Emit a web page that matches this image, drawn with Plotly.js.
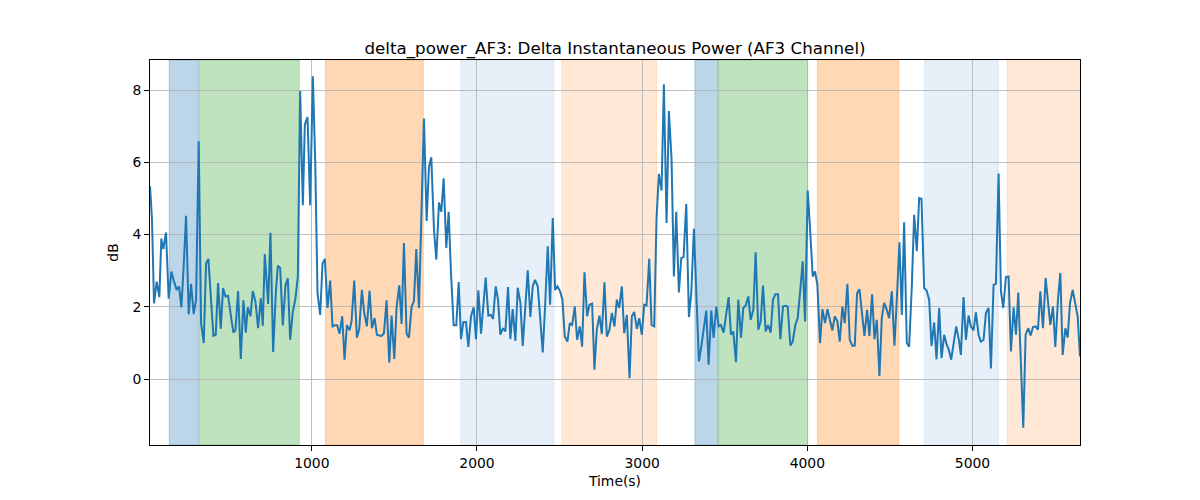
<!DOCTYPE html>
<html>
<head>
<meta charset="utf-8">
<script src="https://cdn.plot.ly/plotly-3.0.1.min.js"></script>
<style>
  html, body { margin: 0; padding: 0; background: #fff; }
  #graph { width: 1200px; height: 500px; }
</style>
</head>
<body>
<div id="graph"></div>
<script>
/* global Plotly */

// sample times (s)
const timeS = [
  20.4, 32.5, 44.6, 60.8, 77, 89, 101.2, 117.4, 133.5, 149.7, 165.9, 182, 196.2, 210.3, 224.4, 238.6,
  254.7, 268.9, 285, 299.2, 315.3, 329.5, 345.6, 359.8, 373.9, 388.1, 404.2, 418.4, 432.5, 448.7,
  462.8, 477, 493.1, 509.3, 525.4, 537.6, 553.7, 569.9, 586, 600.2, 612.3, 628.5, 642.6, 658.8,
  674.9, 691.1, 703.2, 715.3,
  735.6, 749.7, 765.9, 782, 794.2, 808.3, 824.5, 840.6, 854.8, 868.9, 885.1, 901.2, 915.4, 929.5,
  945.7, 957.8, 974, 990.1, 1006.3, 1020.4, 1034.6, 1050.7, 1064.9, 1079, 1095.2, 1111.3, 1125.5,
  1139.6, 1153.7, 1167.9, 1184, 1198.2, 1212.3, 1228.5, 1240.6, 1256.8, 1272.9, 1287.1, 1303.2,
  1317.4, 1333.5, 1349.7, 1363.8, 1380, 1394.1, 1408.3,
  1422.4, 1436.6, 1452.7, 1468.9, 1483, 1499.2, 1513.3, 1529.5, 1543.6, 1557.8, 1573.9, 1588.1,
  1604.2, 1618.4, 1632.5, 1648.7, 1664.8, 1679, 1695.1, 1709.3, 1723.4, 1739.6, 1753.7, 1769.9,
  1784, 1798.2, 1814.3, 1828.5, 1842.6, 1858.8, 1874.9, 1889.1, 1903.2, 1917.3, 1933.5, 1947.6,
  1963.8, 1980, 1994.1, 2008.3, 2024.4, 2038.6, 2052.7, 2068.8, 2083, 2097.1, 2113.3,
  2127.4, 2141.6, 2157.7, 2171.9, 2188, 2202.2, 2216.3, 2232.5, 2246.6, 2262.8, 2276.9, 2293.1,
  2307.2, 2323.4, 2337.5, 2351.7, 2367.8, 2382, 2398.1, 2412.3, 2428.4, 2442.6, 2458.7, 2472.9,
  2487, 2503.2, 2517.3, 2531.5, 2547.6, 2561.8, 2575.9, 2592.1, 2606.2, 2622.4, 2636.5, 2650.7,
  2666.8, 2681, 2697.1, 2711.2, 2725.4, 2741.5, 2755.7, 2771.8, 2786, 2802.1, 2816.3,
  2832.6, 2846.7, 2860.8, 2877, 2891.1, 2907.3, 2923.5, 2937.6, 2951.8, 2967.9, 2982.1, 2998.2,
  3012.4, 3026.5, 3042.7, 3056.8, 3073, 3087.1, 3101.2, 3117.4, 3131.5, 3147.7, 3161.8, 3178,
  3192.1, 3206.3, 3222.4, 3236.6, 3250.7, 3266.9, 3283, 3297.2, 3313.3, 3327.5, 3343.6, 3357.8,
  3373.9, 3388.1, 3402.2, 3418.4, 3432.5, 3448.7, 3462.8, 3477, 3493.1, 3509.3, 3523.5,
  3537.6, 3551.7, 3567.9, 3582, 3598.2, 3612.3, 3626.5, 3642.6, 3656.8, 3672.9, 3687.1, 3703.2,
  3717.4, 3731.5, 3747.7, 3761.8, 3778, 3792.1, 3806.3, 3822.4, 3836.6, 3852.7, 3866.9, 3881,
  3897.2, 3911.3, 3927.5, 3941.6, 3957.8, 3971.9, 3986.1, 4002.2, 4016.3, 4032.5, 4046.6, 4060.8,
  4076.9, 4091.1, 4107.2, 4121.4, 4135.5, 4151.7, 4165.8, 4182, 4196.1, 4212.3, 4226.4,
  4242.6, 4256.7, 4272.9, 4287, 4301.2, 4315.3, 4331.5, 4345.6, 4361.8, 4375.9, 4392.1, 4406.2,
  4420.4, 4436.5, 4450.7, 4464.8, 4481, 4495.1, 4511.3, 4527.4, 4541.6, 4557.7, 4571.9, 4586,
  4602.2, 4616.3, 4632.5, 4646.6, 4662.8, 4676.9, 4691.1, 4707.2, 4721.4, 4737.5, 4751.7, 4767.8,
  4782, 4798.1, 4812.3, 4828.4, 4842.6, 4856.7, 4870.9, 4887, 4901.1, 4917.3, 4929.4,
  4945.7, 4959.8, 4976, 4990.1, 5006.3, 5020.4, 5036.6, 5050.7, 5066.9, 5081.1, 5097.2, 5111.4,
  5127.5, 5141.7, 5157.8, 5172, 5186.1, 5202.3, 5218.4, 5232.6, 5248.7, 5262.9, 5277, 5293.2,
  5307.3, 5321.5, 5337.6, 5351.8, 5365.9, 5382.1, 5396.2, 5410.4, 5426.5, 5442.7, 5456.8, 5471,
  5487.1, 5501.3, 5517.4, 5531.6, 5545.7, 5561.9, 5576, 5590.2, 5606.3, 5620.5, 5636.6, 5650.7,
];

// delta power (dB)
const powerDb = [
  5.34, 4.42, 2.1, 2.7, 2.27, 3.89, 3.6, 4.06, 2.23, 2.98, 2.7, 2.47, 2.57, 1.99, 3.13, 4.52,
  1.8, 2.64, 1.8, 2.2, 6.58, 1.55, 1.0, 3.2, 3.33, 2.2, 1.2, 1.23, 2.66, 1.4,
  2.52, 2.29, 2.31, 1.78, 1.29, 1.35, 2.44, 0.56, 2.18, 1.29, 1.99, 1.74, 2.44, 2.15,
  1.41, 2.24, 1.48, 3.46,
  2.08, 4.05, 0.75, 2.38, 3.14, 3.08, 1.49, 2.6, 2.79, 1.09, 1.87, 2.24, 2.84, 7.97,
  4.81, 7.05, 7.25, 4.81, 8.38, 6.07, 2.38, 1.78, 3.2, 3.33, 1.97, 2.73, 1.46,
  1.49, 1.49, 1.26, 1.74, 0.54, 1.5, 1.35, 1.6, 2.73, 1.15, 1.39, 2.47,
  1.83, 1.46, 2.45, 1.41, 1.69, 1.23, 1.21,
  1.2, 1.27, 2.18, 0.46, 1.76, 0.56, 1.99, 2.6, 1.53, 3.77, 1.26, 1.15,
  2.01, 2.16, 3.6, 1.97, 4.42, 7.21, 4.38, 5.87, 6.14, 4.14, 3.31, 4.89,
  4.63, 5.56, 3.63, 4.63, 2.94, 1.49, 1.49, 2.69, 1.11, 1.58, 1.58, 0.89,
  1.74, 1.99, 1.11, 2.46, 1.26, 2.18, 2.81, 1.76, 1.78, 1.67, 2.57,
  2.2, 1.23, 1.41, 1.32, 2.55, 1.11, 1.94, 1.06, 2.53, 2.11, 0.92, 1.94,
  3.01, 1.72, 2.57, 2.75, 2.57, 1.74, 0.74, 2.01, 3.68, 2.06, 4.46, 2.47,
  2.57, 2.43, 2.2, 1.18, 1.04, 1.55, 1.5, 2.01, 1.09, 1.46, 0.9, 2.96,
  1.74, 2.06, 2.09, 0.26, 1.37, 1.76, 1.25, 2.68, 1.18, 1.37, 1.83,
  1.46, 2.2, 1.97, 2.57, 1.27, 1.78, 0.03, 1.74, 1.86, 1.39, 1.69, 1.23,
  2.06, 2.04, 3.33, 1.5, 1.46, 4.46, 5.68, 5.22, 8.16, 4.32, 7.42, 6.08,
  2.84, 4.63, 2.4, 3.35, 3.38, 4.85, 1.72, 2.38, 4.16, 2.2, 0.49, 0.9,
  1.46, 1.9, 0.4, 1.9, 1.14, 2.01, 1.46, 1.5, 1.29, 1.83, 2.27,
  1.23, 1.32, 0.47, 2.2, 1.15, 1.97, 2.03, 2.29, 1.64, 1.92, 3.51, 1.37,
  1.6, 2.59, 1.32, 1.5, 1.29, 2.2, 2.35, 2.35, 1.11, 2.01, 2.03, 2.01,
  0.93, 1.04, 1.5, 1.69, 2.49, 3.26, 1.6, 5.22, 4.18, 2.84, 2.98, 2.61,
  1.0, 1.94, 1.55, 1.94, 1.66, 1.35, 1.74, 1.6, 1.04, 2.01, 1.55,
  2.64, 1.09, 0.92, 0.93, 2.38, 2.49, 1.69, 1.2, 1.92, 1.2, 2.35, 1.11,
  1.64, 0.09, 1.69, 2.11, 1.92, 1.69, 2.43, 0.93, 2.2, 3.79, 1.78, 4.34,
  1.0, 0.9, 2.57, 4.55, 3.54, 5.01, 4.99, 2.52, 2.46, 2.2, 0.92, 1.57,
  0.55, 1.97, 0.58, 1.23, 0.97, 0.81, 0.54, 1.04, 1.46, 1.09, 0.67,
  2.27, 1.09, 1.76, 1.46, 1.35, 1.85, 1.23, 1.04, 1.09, 1.83, 1.97, 0.3,
  2.61, 2.64, 5.69, 2.43, 1.97, 2.83, 2.84, 0.77, 1.99, 1.23, 2.4, 0.54,
  -1.34, 1.23, 1.41, 1.21, 1.44, 1.46, 1.37, 2.43, 1.41, 2.8, 2.2, 1.5,
  2.01, 0.89, 2.2, 2.94, 0.67, 1.41, 1.15, 2.11, 2.47, 2.15, 1.74, 0.63,
];

// shaded phases (s)
const spanStart = [137, 320, 1083, 1902, 2513, 3319, 3463, 4061, 4709, 5210];
const spanEnd = [313, 924, 1675, 2465, 3087, 3459, 4002, 4554, 5156, 5700];
const spanKind = ['blue', 'green', 'orange', 'paleBlue', 'paleOrange',
  'blue', 'green', 'orange', 'paleBlue', 'paleOrange'];

const spanFill = {
  blue: 'rgba(31,119,180,0.3)',
  green: 'rgba(44,160,44,0.3)',
  orange: 'rgba(255,127,14,0.3)',
  paleBlue: 'rgba(70,130,210,0.13)',
  paleOrange: 'rgba(255,127,14,0.17)',
};

const shapes = spanStart.map((x0, i) => ({
  type: 'rect',
  xref: 'x',
  yref: 'paper',
  x0,
  x1: spanEnd[i],
  y0: 0,
  y1: 1,
  fillcolor: spanFill[spanKind[i]],
  line: { color: spanFill[spanKind[i]], width: 1 },
  layer: 'below',
}));

const font = { family: 'DejaVu Sans, sans-serif', size: 13.9, color: '#000' };

const axisBase = {
  showline: true,
  linecolor: '#000',
  linewidth: 1,
  mirror: true,
  ticks: 'outside',
  ticklen: 5,
  tickwidth: 1,
  tickcolor: '#000',
  showgrid: true,
  gridcolor: '#b0b0b0',
  gridwidth: 0.8,
  zeroline: false,
  tickfont: font,
};

const trace = {
  x: timeS,
  y: powerDb,
  type: 'scatter',
  mode: 'lines',
  line: { color: '#1f77b4', width: 2 },
  hoverinfo: 'x+y',
};

const layout = {
  width: 1200,
  height: 500,
  margin: { l: 150, r: 120, t: 60, b: 55 },
  paper_bgcolor: '#fff',
  plot_bgcolor: '#fff',
  showlegend: false,
  font,
  title: {
    text: 'delta_power_AF3: Delta Instantaneous Power (AF3 Channel)',
    font: { family: 'DejaVu Sans, sans-serif', size: 16.7, color: '#000' },
    x: 0.5,
    xref: 'paper',
    xanchor: 'center',
    y: 1,
    yref: 'paper',
    yanchor: 'bottom',
    pad: { b: 6 },
  },
  xaxis: Object.assign({}, axisBase, {
    range: [20.4, 5650.7],
    tickvals: [1000, 2000, 3000, 4000, 5000],
    title: { text: 'Time(s)', font, standoff: 6 },
  }),
  yaxis: Object.assign({}, axisBase, {
    range: [-1.82, 8.83],
    tickvals: [0, 2, 4, 6, 8],
    title: { text: 'dB', font, standoff: 10 },
  }),
  shapes,
};

Plotly.newPlot('graph', [trace], layout, { staticPlot: true, displayModeBar: false });
</script>
</body>
</html>
